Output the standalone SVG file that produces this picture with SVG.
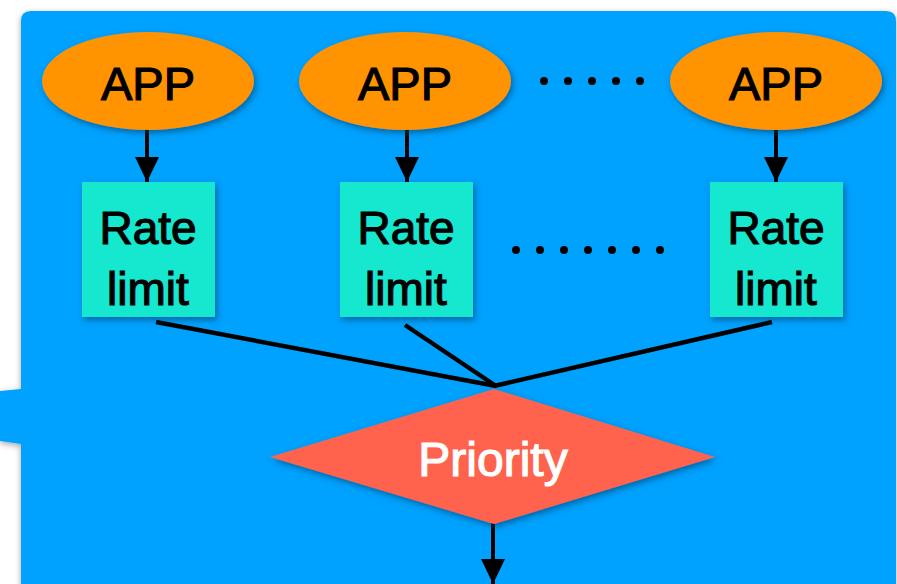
<svg xmlns="http://www.w3.org/2000/svg" width="897" height="584" viewBox="0 0 897 584">
  <defs>
    <filter id="panelShadow" x="-5%" y="-5%" width="110%" height="110%">
      <feDropShadow dx="0" dy="2" stdDeviation="3" flood-color="#000" flood-opacity="0.35"/>
    </filter>
    <filter id="shapeShadow" x="-20%" y="-20%" width="140%" height="140%">
      <feDropShadow dx="2" dy="3" stdDeviation="3" flood-color="#003a66" flood-opacity="0.6"/>
    </filter>
    <marker id="arrowHead" viewBox="0 0 25 24" refX="25" refY="12" markerWidth="25" markerHeight="24" markerUnits="userSpaceOnUse" orient="auto">
      <path d="M0,0 L25,12 L0,24 Z" fill="#000"/>
    </marker>
  </defs>
  <style>
    .app { fill: #FF9300; filter: url(#shapeShadow); }
    .rate { fill: #16E7CF; filter: url(#shapeShadow); }
    .prio { fill: #FF644E; filter: url(#shapeShadow); }
    .label { font-family: "Liberation Sans", Arial, sans-serif; text-anchor: middle; fill: #000; stroke: #000; stroke-width: 1.2; }
    .big { font-size: 47px; }
    .mid { font-size: 46px; }
    .white { fill: #fff; stroke: #fff; font-size: 48px; }
    .arrow { stroke: #000; stroke-width: 4; fill: none; marker-end: url(#arrowHead); }
    .link { stroke: #000; stroke-width: 4.5; fill: none; stroke-linecap: butt; }
    .dot { fill: #000; }
  </style>

  <!-- background panel with callout tab on the left -->
  <g id="panel" filter="url(#panelShadow)">
    <path d="M31,11 H886 Q896,11 896,21 V590 H21 V444 L0,441 V391 L21,389 V21 Q21,11 31,11 Z" fill="#00A2FF"/>
  </g>

  <!-- connectors -->
  <g id="connectors">
    <line class="arrow" x1="147" y1="127" x2="147" y2="182"/>
    <line class="arrow" x1="407" y1="127" x2="407" y2="182"/>
    <line class="arrow" x1="776" y1="127" x2="776" y2="182"/>
    <line class="link" x1="156" y1="322" x2="496" y2="386"/>
    <line class="link" x1="405" y1="325" x2="496" y2="386"/>
    <line class="link" x1="772" y1="322" x2="494" y2="386"/>
    <line class="arrow" x1="493" y1="523" x2="493" y2="584"/>
  </g>

  <!-- application nodes -->
  <g id="app1">
    <ellipse class="app" cx="148" cy="81" rx="106" ry="49"/>
    <text class="label big" x="148" y="100">APP</text>
  </g>
  <g id="app2">
    <ellipse class="app" cx="405" cy="81" rx="106" ry="49"/>
    <text class="label big" x="405" y="100">APP</text>
  </g>
  <g id="app3">
    <ellipse class="app" cx="776" cy="81" rx="106" ry="49"/>
    <text class="label big" x="776" y="100">APP</text>
  </g>

  <!-- ellipsis between applications -->
  <g id="appDots">
    <circle class="dot" cx="544" cy="81" r="4"/>
    <circle class="dot" cx="568" cy="81" r="4"/>
    <circle class="dot" cx="592" cy="81" r="4"/>
    <circle class="dot" cx="616" cy="81" r="4"/>
    <circle class="dot" cx="640" cy="81" r="4"/>
  </g>

  <!-- rate limiter nodes -->
  <g id="rate1">
    <rect class="rate" x="82" y="182" width="133" height="135"/>
    <text class="label mid" x="148" y="244">Rate</text>
    <text class="label mid" x="148" y="305">limit</text>
  </g>
  <g id="rate2">
    <rect class="rate" x="340" y="182" width="133" height="135"/>
    <text class="label mid" x="406" y="244">Rate</text>
    <text class="label mid" x="406" y="305">limit</text>
  </g>
  <g id="rate3">
    <rect class="rate" x="710" y="182" width="133" height="135"/>
    <text class="label mid" x="776" y="244">Rate</text>
    <text class="label mid" x="776" y="305">limit</text>
  </g>

  <!-- ellipsis between rate limiters -->
  <g id="rateDots">
    <circle class="dot" cx="516" cy="250" r="4"/>
    <circle class="dot" cx="540" cy="250" r="4"/>
    <circle class="dot" cx="564" cy="250" r="4"/>
    <circle class="dot" cx="588" cy="250" r="4"/>
    <circle class="dot" cx="612" cy="250" r="4"/>
    <circle class="dot" cx="636" cy="250" r="4"/>
    <circle class="dot" cx="660" cy="250" r="4"/>
  </g>

  <!-- priority decision -->
  <g id="priority">
    <polygon class="prio" points="494,389 715,457 494,524 270,457"/>
    <text class="label white" x="493" y="476">Priority</text>
  </g>
</svg>
